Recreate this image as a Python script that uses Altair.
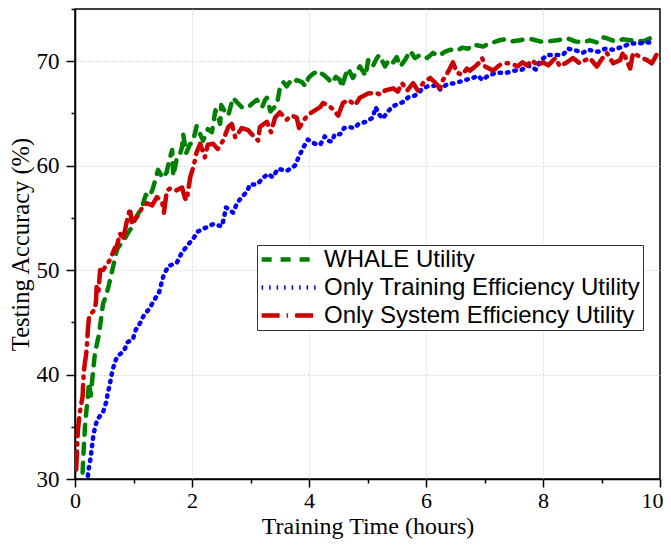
import altair as alt
import pandas as pd

series_names = ["WHALE Utility", "Only Training Efficiency Utility", "Only System Efficiency Utility"]
colors = ["#008000", "#0000ff", "#cc0000"]

whale_x = [0.13,0.15,0.17,0.19,0.21,0.24,0.27,0.30,0.34,0.37,0.40,0.43,0.48,0.53,0.58,0.65,0.72,0.78,0.85,0.91,
           0.97,1.04,1.11,1.16,1.21,1.27,1.33,1.38,1.42,1.50,1.57,1.60,1.66,1.68,1.74,1.79,1.83,1.85,1.90,1.96,
           2.02,2.08,2.14,2.19,2.27,2.34,2.40,2.44,2.48,2.50,2.56,2.62,2.70,2.78,2.85,2.96,3.04,3.11,3.20,3.25,
           3.28,3.34,3.39,3.45,3.50,3.56,3.62,3.67,3.73,3.79,3.88,3.94,3.99,4.07,4.17,4.22,4.27,4.33,4.39,4.46,
           4.53,4.56,4.62,4.67,4.75,4.81,4.87,4.97,5.01,5.09,5.15,5.20,5.30,5.37,5.44,5.50,5.56,5.64,5.73,5.81,
           5.90,6.02,6.12,6.22,6.32,6.42,6.53,6.62,6.72,6.80,6.89,6.98,7.07,7.15,7.25,7.35,7.47,7.60,7.70,7.81,
           7.95,8.08,8.25,8.41,8.55,8.68,8.80,8.92,9.01,9.09,9.23,9.37,9.48,9.60,9.72,9.83,9.95]
whale_y = [30.6,33.0,35.0,36.3,37.3,39.2,38.0,39.8,42.0,42.8,43.6,44.7,46.8,47.5,48.6,50.3,52.0,52.5,53.0,53.6,
           54.1,55.0,55.7,56.3,57.2,57.0,57.8,58.8,59.6,58.8,59.4,60.3,61.5,59.0,60.7,61.0,61.8,63.0,61.2,62.0,
           62.4,63.8,63.0,62.4,63.5,63.2,65.3,64.8,64.0,65.8,65.2,64.8,66.5,66.0,65.6,65.6,66.0,66.3,65.6,66.3,
           66.5,65.2,65.5,65.8,67.4,68.0,67.6,68.0,67.8,68.2,68.0,67.6,68.4,68.8,69.1,68.8,68.6,68.3,67.9,68.5,
           68.2,67.5,68.6,69.3,68.4,69.0,69.5,68.6,70.1,69.5,70.2,70.6,69.5,70.2,69.9,70.4,69.5,70.1,71.0,70.3,
           70.6,70.3,70.8,70.5,70.9,71.1,71.0,71.3,71.2,71.6,71.5,71.4,71.7,71.8,72.0,72.1,71.9,72.0,72.1,72.1,
           71.9,71.9,72.0,72.2,71.9,71.8,72.0,71.8,72.3,72.2,71.9,72.1,72.0,72.0,71.9,72.2,72.0]

train_x = [0.22,0.24,0.27,0.29,0.31,0.34,0.38,0.48,0.53,0.56,0.60,0.63,0.67,0.72,0.84,0.90,0.99,1.04,1.11,1.18,
           1.27,1.35,1.44,1.48,1.52,1.60,1.74,1.81,1.91,2.02,2.10,2.21,2.36,2.51,2.55,2.58,2.64,2.70,2.77,2.85,
           2.94,2.99,3.11,3.23,3.30,3.38,3.47,3.62,3.76,3.83,3.90,3.98,4.10,4.19,4.27,4.32,4.39,4.44,4.53,4.60,
           4.68,4.77,4.85,4.97,5.09,5.14,5.20,5.26,5.35,5.44,5.61,5.71,5.81,5.95,6.03,6.19,6.24,6.36,6.50,6.67,
           6.80,6.89,6.96,7.06,7.20,7.38,7.52,7.64,7.74,7.88,7.95,8.07,8.24,8.34,8.43,8.58,8.68,8.77,8.94,9.06,
           9.20,9.37,9.49,9.64,9.78,9.91]
train_y = [30.3,31.2,32.1,33.1,34.0,34.9,35.7,36.4,37.3,38.2,39.2,40.1,41.0,41.7,42.3,43.1,43.4,44.3,44.9,45.7,
           46.3,47.1,47.9,48.8,49.6,50.4,50.7,51.5,52.3,53.0,53.7,54.0,54.4,54.2,55.1,56.0,55.8,55.5,56.4,57.0,
           57.5,58.2,58.2,58.9,59.2,58.9,59.7,59.5,60.0,60.9,61.7,62.5,62.1,62.0,62.8,62.4,62.3,63.0,63.0,63.6,
           63.7,63.6,64.0,64.2,64.6,65.6,64.9,64.5,65.2,65.7,66.1,66.6,66.7,67.4,67.6,67.7,67.3,67.8,67.9,68.2,
           68.4,68.6,68.2,68.6,68.9,68.9,69.1,69.2,69.6,69.2,70.0,70.6,70.6,70.6,71.2,71.0,70.8,71.1,70.9,71.2,
           71.1,71.4,71.7,71.7,71.8,71.8]

system_x = [0.02,0.03,0.04,0.05,0.07,0.10,0.13,0.14,0.15,0.17,0.19,0.21,0.22,0.24,0.30,0.34,0.36,0.37,0.40,0.43,
            0.48,0.54,0.60,0.68,0.70,0.77,0.82,0.88,0.94,0.97,1.06,1.14,1.23,1.32,1.40,1.49,1.52,1.57,1.62,1.72,
            1.83,1.88,1.91,1.97,2.03,2.08,2.14,2.22,2.27,2.36,2.44,2.53,2.62,2.68,2.74,2.85,2.96,3.04,3.13,3.16,
            3.28,3.35,3.42,3.50,3.62,3.70,3.79,3.83,3.93,4.02,4.10,4.19,4.24,4.32,4.39,4.50,4.58,4.67,4.79,4.87,
            5.01,5.13,5.22,5.30,5.44,5.52,5.59,5.68,5.78,5.86,5.95,6.07,6.15,6.24,6.29,6.38,6.46,6.53,6.62,6.70,
            6.75,6.84,6.92,6.96,7.01,7.15,7.25,7.32,7.44,7.57,7.65,7.73,7.81,7.91,8.00,8.09,8.21,8.29,8.41,8.51,
            8.63,8.72,8.80,8.92,9.03,9.09,9.20,9.32,9.37,9.49,9.54,9.66,9.78,9.86,9.95]
system_y = [30.9,32.1,33.4,34.7,35.8,37.0,37.9,39.2,40.2,41.2,41.9,43.3,44.3,45.5,46.0,46.2,47.1,48.4,47.9,50.0,
            50.0,50.5,51.0,52.1,52.0,53.5,52.9,54.5,55.9,54.6,55.1,55.9,56.4,56.2,57.0,56.5,55.5,57.6,57.8,57.6,
            57.9,56.9,56.7,58.9,60.0,61.3,62.1,60.8,62.0,62.1,61.6,62.4,63.7,64.0,62.7,63.6,63.4,62.9,62.4,63.7,
            64.2,63.2,64.6,65.1,64.4,64.8,64.6,63.6,64.5,65.0,65.3,65.6,66.0,65.8,65.5,64.8,66.0,66.3,65.8,66.5,
            66.9,67.0,66.8,67.2,67.4,67.1,67.9,67.2,67.9,67.2,67.9,68.4,68.0,67.4,68.2,69.0,69.9,68.9,68.7,69.3,
            69.1,69.5,69.9,70.3,69.5,69.1,69.6,69.8,69.8,69.5,69.9,69.6,70.1,69.6,69.9,69.6,70.3,69.5,69.9,70.3,
            69.8,70.1,70.3,69.5,70.4,70.8,69.8,70.1,70.9,69.3,70.8,70.4,70.1,69.8,70.7]

x_ticks = [0, 1, 2, 3, 4, 5, 6, 7, 8, 9, 10]
y_ticks = [30, 35, 40, 45, 50, 55, 60, 65, 70, 75]

rows = []
for name, xs, ys in [(series_names[0], whale_x, whale_y),
                     (series_names[1], train_x, train_y),
                     (series_names[2], system_x, system_y)]:
    for i, (xv, yv) in enumerate(zip(xs, ys)):
        rows.append({"series": name, "t": xv, "acc": yv, "order": i})
df = pd.DataFrame(rows)

serif = "Liberation Serif"

x_axis = alt.Axis(
    values=x_ticks,
    labelExpr="datum.value % 2 == 0 ? datum.label : ''",
    title="Training Time (hours)",
    titleFont=serif, titleFontSize=24, titleFontWeight="normal", titleColor="black",
    titlePadding=3,
    labelFont=serif, labelFontSize=22, labelColor="black", labelPadding=3,
    labelFlush=False,
    labelAlign={"condition": {"test": "datum.value == 10", "value": "right"}, "value": "center"},
    labelOffset={"condition": {"test": "datum.value == 10", "value": 3}, "value": 0},
    domainColor="black", domainWidth=1.5,
    tickColor="black", tickWidth=1.5,
    tickSize={"condition": {"test": "datum.value % 2 == 0", "value": 8}, "value": 4},
    grid=True, gridDash=[2, 2], gridColor="#d8d8d8",
    gridOpacity={"condition": {"test": "datum.value % 2 == 0 && datum.value > 0 && datum.value < 10", "value": 1}, "value": 0},
)
y_axis = alt.Axis(
    values=y_ticks,
    labelExpr="datum.value % 10 == 0 ? datum.label : ''",
    title="Testing Accuracy (%)",
    titleFont=serif, titleFontSize=24.5, titleFontWeight="normal", titleColor="black",
    titlePadding=3,
    labelFont=serif, labelFontSize=23, labelColor="black", labelPadding=7,
    labelFlush=False,
    domainColor="black", domainWidth=1.5,
    tickColor="black", tickWidth=1.5,
    tickSize={"condition": {"test": "datum.value % 10 == 0", "value": 9}, "value": 4},
    grid=True, gridDash=[2, 2], gridColor="#d8d8d8",
    gridOpacity={"condition": {"test": "datum.value % 10 == 0 && datum.value > 30", "value": 1}, "value": 0},
)

chart = alt.Chart(df).mark_line(strokeWidth=4.5, strokeCap="round", strokeJoin="round", clip=True).encode(
    x=alt.X("t:Q", scale=alt.Scale(domain=[0, 10], nice=False), axis=x_axis),
    y=alt.Y("acc:Q", scale=alt.Scale(domain=[30, 75], nice=False, zero=False), axis=y_axis),
    color=alt.Color("series:N", scale=alt.Scale(domain=series_names, range=colors),
                    legend=alt.Legend(title=None)),
    strokeDash=alt.StrokeDash("series:N", scale=alt.Scale(domain=series_names,
                              range=[[10, 9], [1.5, 6], [18, 7, 1.5, 7]]),
                              legend=alt.Legend(title=None)),
    order="order:Q",
).properties(
    width=585, height=470,
    autosize=alt.AutoSizeParams(type="none"),
    padding={"left": 67, "top": 1, "right": 3, "bottom": 63},
).configure_view(
    stroke="black", strokeWidth=1.5
).configure_legend(
    orient="none", legendX=182, legendY=236,
    strokeColor="#333", fillColor="white", padding=2, cornerRadius=0,
    labelFont="Liberation Sans", labelFontSize=24, labelColor="black", labelLimit=0,
    symbolType="stroke", symbolSize=3000, symbolStrokeWidth=4.5, rowPadding=3,
    clipHeight=25, labelOffset=5,
)

chart.save("out.html", embed_options={"renderer": "svg", "actions": False})
